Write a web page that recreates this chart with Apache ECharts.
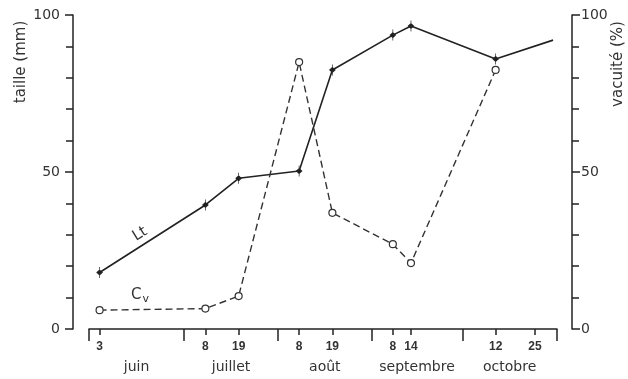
<!DOCTYPE html>
<html><head><meta charset="utf-8">
<script src="https://cdn.jsdelivr.net/npm/echarts@6/dist/echarts.min.js"></script>
<style>html,body{margin:0;padding:0;background:#fff}#c{width:628px;height:379px}</style>
</head><body><div id="c"></div>
<script>
// ---- data ----
const ltDates = ['06-03','07-08','07-19','08-08','08-19','09-08','09-14','10-12','10-31'];
const ltValues = [18, 39.5, 48, 50.3, 82.5, 93.6, 96.5, 86, 92];
const cvDates = ['06-03','07-08','07-19','08-08','08-19','09-08','09-14','10-12'];
const cvValues = [6, 6.5, 10.5, 85, 37, 27, 21, 82.5];
const tickDates = ['06-03','07-08','07-19','08-08','08-19','09-08','09-14','10-12','10-25'];
const monthStarts = ['07-01','08-01','09-01','10-01'];
const monthNames = ['juin','juillet','août','septembre','octobre'];
const axisStart = '05-30';
const axisEnd = '11-01';

// ---- helpers ----
const DAY = 86400000;
const toT = s => { const [m, d] = s.split('-').map(Number); return Date.UTC(2001, m - 1, d); };
const xMin = toT(axisStart) + 0.5 * DAY;
const xMax = toT(axisEnd) + 0.3 * DAY;
const bounds = [xMin, ...monthStarts.map(toT), xMax];
const monthMids = monthNames.map((_, i) => (bounds[i] + bounds[i + 1]) / 2);

const ink = '#222';
const txt = '#333';
const font = 'DejaVu Sans';

const ltData = ltDates.map((d, i) => {
  const item = { value: [toT(d), ltValues[i]] };
  if (i === ltDates.length - 1) item.symbol = 'none';
  return item;
});
const cvData = cvDates.map((d, i) => [toT(d), cvValues[i]]);

const yAxisBase = (pos, off, margin) => ({
  type: 'value', position: pos, min: 0, max: 100, interval: 50, offset: off,
  axisLine: { show: true, lineStyle: { color: ink, width: 1.5 } },
  axisTick: { show: true, length: 8, lineStyle: { color: ink, width: 1.5 } },
  minorTick: { show: true, splitNumber: 5, length: 7, lineStyle: { color: ink, width: 1.5 } },
  axisLabel: { color: txt, fontSize: 14, margin: margin, fontFamily: font },
  splitLine: { show: false }
});

const chart = echarts.init(document.getElementById('c'));
chart.setOption({
  animation: false,
  backgroundColor: '#fff',
  grid: { left: 89, right: 71, top: 15, bottom: 50, containLabel: false },
  xAxis: [
    {
      type: 'value', position: 'bottom', min: xMin, max: xMax, offset: 2,
      axisLine: { show: true, lineStyle: { color: ink, width: 1.5 } },
      axisTick: { show: true, length: 6, customValues: tickDates.map(toT), lineStyle: { color: ink, width: 1.5 } },
      axisLabel: {
        customValues: tickDates.map(toT), margin: 10, fontSize: 12, fontWeight: 'bold',
        color: txt, fontFamily: 'Liberation Sans',
        formatter: v => String(new Date(v).getUTCDate())
      },
      splitLine: { show: false }
    },
    {
      type: 'value', position: 'bottom', min: xMin, max: xMax, offset: 2,
      axisLine: { show: false },
      axisTick: { show: true, length: 12, customValues: bounds, lineStyle: { color: ink, width: 1.5 } },
      axisLabel: {
        customValues: monthMids, margin: 29, fontSize: 14, color: txt, fontFamily: font,
        formatter: v => { const i = monthMids.findIndex(m => Math.abs(m - v) < DAY); return i >= 0 ? monthNames[i] : ''; }
      },
      splitLine: { show: false }
    }
  ],
  yAxis: [yAxisBase('left', 16, 13), yAxisBase('right', 15, 9)],
  series: [
    {
      name: 'Lt', type: 'line', xAxisIndex: 0, yAxisIndex: 0, data: ltData,
      symbol: 'path://M0,-6L0,6M-2.5,0L0,-2.5L2.5,0L0,2.5Z', symbolSize: [5, 11],
      itemStyle: { color: ink, borderColor: ink, borderWidth: 1 },
      lineStyle: { color: ink, width: 1.6 }
    },
    {
      name: 'Cv', type: 'line', xAxisIndex: 0, yAxisIndex: 1, data: cvData,
      symbol: 'circle', symbolSize: 7, showAllSymbol: true,
      itemStyle: { color: '#fff', borderColor: txt, borderWidth: 1.2 },
      lineStyle: { color: txt, width: 1.4, type: [7, 4] }
    }
  ],
  graphic: [
    { type: 'text', x: 21, y: 62, rotation: Math.PI / 2,
      style: { text: 'taille (mm)', fontSize: 15, fill: txt, fontFamily: font, align: 'center', verticalAlign: 'middle' } },
    { type: 'text', x: 618, y: 64, rotation: Math.PI / 2,
      style: { text: 'vacuité (%)', fontSize: 15, fill: txt, fontFamily: font, align: 'center', verticalAlign: 'middle' } },
    { type: 'text', x: 140, y: 234, rotation: 0.55,
      style: { text: 'Lt', fontSize: 15, fill: txt, fontFamily: font, align: 'center', verticalAlign: 'middle' } },
    { type: 'text', x: 140, y: 295,
      style: { text: '{a|C}{b|v}', fill: txt, fontFamily: font, align: 'center', verticalAlign: 'middle',
        rich: { a: { fontSize: 15, fill: txt, fontFamily: font }, b: { fontSize: 11, fill: txt, fontFamily: font, padding: [8, 0, 0, 1] } } } }
  ]
});
</script>
</body></html>
